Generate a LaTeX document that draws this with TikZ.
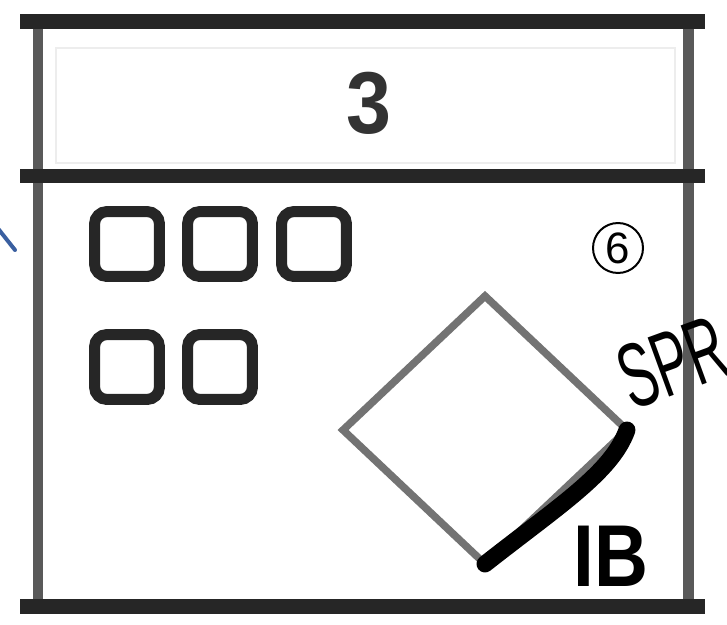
\documentclass[tikz,border=0pt]{standalone}
\usepackage{fontspec}
\setmainfont{Liberation Sans}
\usetikzlibrary{
    positioning,
    shapes.geometric
}
\tikzset{
    marco/.style={
        line width=0.3cm,
        black!85
    },
    lado/.style={
        line width=0.22cm,
        black!65
    },
    casilla/.style={
        draw=black!85,
        line width=0.22cm,
        rounded corners=0.25cm,
        minimum size=1.3cm,
        inner sep=0pt
    },
    rombo/.style={
        draw=black!55,
        line width=0.15cm,
        diamond,
        minimum width=5.68cm,
        minimum height=5.36cm,
        inner sep=0pt,
        outer sep=0pt
    }
}

\begin{document}
\begin{tikzpicture}[
    x=0.02cm,
    y=-0.02cm,
    line cap=butt
]
    \useasboundingbox (0,0) rectangle (727,625);

    % Marco
    \draw[black!7, line width=0.03cm] (56,48) rectangle (675,163);
    \draw[lado] (38,22) -- (38,606);
    \draw[lado] (688,22) -- (688,606);
    \draw[marco] (20,22) -- (705,22);
    \draw[marco] (20,176) -- (705,176);
    \draw[marco] (20,606) -- (705,606);

    % Cabecera
    \node[xscale=0.92, font=\bfseries\fontsize{50}{56}\selectfont, text=black!80] (num) at (369,103) {3};

    % Casillas
    \node[casilla] (c1) at (127,244) {};
    \node[casilla] (c2) at (220,244) {};
    \node[casilla] (c3) at (314,244) {};
    \node[casilla] (c4) at (127,367) {};
    \node[casilla] (c5) at (220,367) {};

    % Rombo
    \node[rombo] (rb) at (485,430) {};

    % Anotaciones
    \node[circle, draw, line width=0.04cm, minimum size=1cm, inner sep=0pt,
          font=\fontsize{25}{28}\selectfont] (seis) at (618,248) {6};
    \node[rotate=20, xscale=0.58, font=\fontsize{52}{56}\selectfont] (spr) at (673,362) {SPR};
    \node[xscale=0.85, font=\bfseries\fontsize{50}{54}\selectfont] (ib) at (611,556) {IB};

    \draw[line width=0.34cm, line cap=round]
        (rb.east) .. controls (612,472) and (560,505) .. (rb.south);

    \coordinate (az1) at (-4,226);
    \coordinate (az2) at (15,250);
    \draw[line width=0.08cm, line cap=round, color={rgb,255:red,58;green,95;blue,160}] (az1) -- (az2);

\end{tikzpicture}
\end{document}
